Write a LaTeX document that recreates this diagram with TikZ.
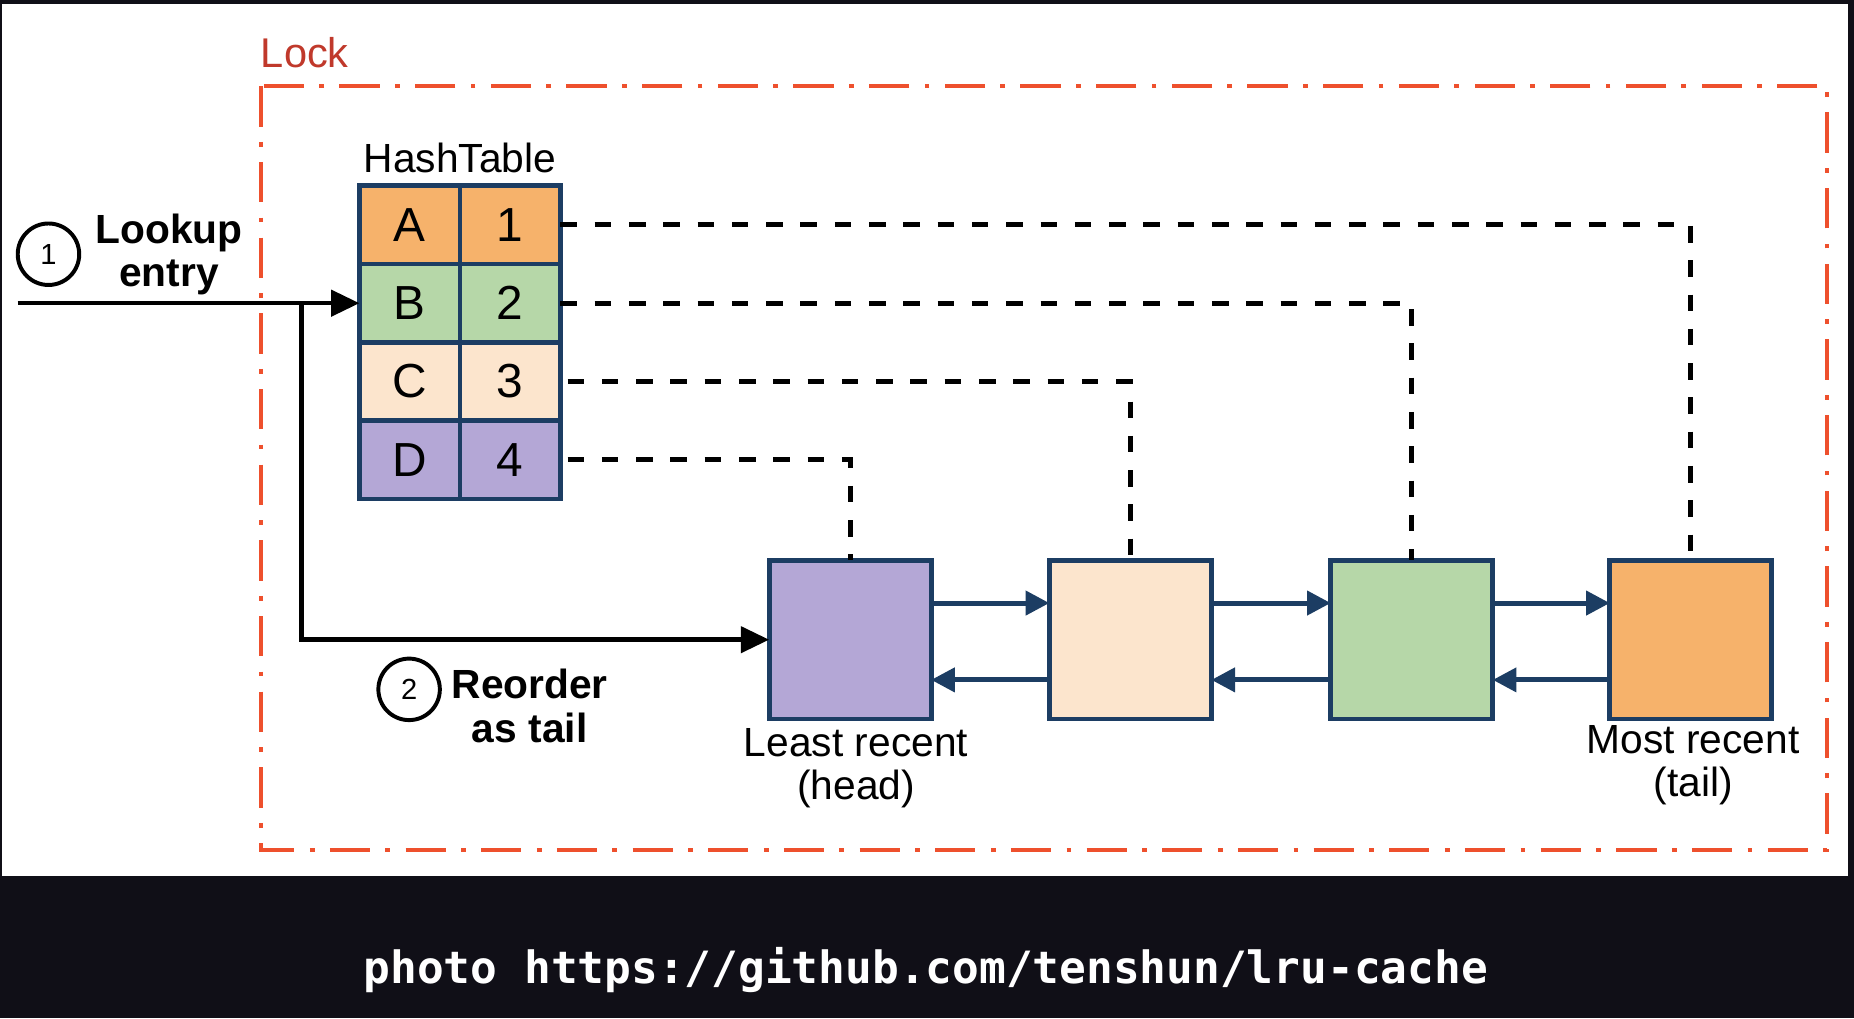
\documentclass[tikz,border=0pt]{standalone}
\usepackage{fontspec}
\setmainfont{Liberation Sans}
\newfontfamily\capfont{DejaVu Sans Mono}
\usetikzlibrary{arrows.meta}
\definecolor{bgdark}{RGB}{16,15,23}
\definecolor{lockred}{RGB}{238,80,45}
\definecolor{locktext}{RGB}{192,57,43}
\definecolor{navy}{RGB}{28,61,99}
\definecolor{corange}{RGB}{246,178,107}
\definecolor{cgreen}{RGB}{182,215,168}
\definecolor{cpeach}{RGB}{252,229,205}
\definecolor{cpurple}{RGB}{180,167,214}
\begin{document}
\begin{tikzpicture}[x=0.1mm,y=-0.1mm,
  cell/.style={draw=navy,line width=1.1pt,minimum width=8.5mm,minimum height=6.625mm,inner sep=0pt,outer sep=0pt,font=\fontsize{11.5pt}{12pt}\selectfont},
  lbox/.style={draw=navy,line width=1.15pt,minimum width=13.7mm,minimum height=13.4mm,inner sep=0pt,outer sep=0pt},
  lbl/.style={font=\fontsize{9.8pt}{10.4pt}\selectfont,align=center,inner sep=0pt},
  blbl/.style={font=\fontsize{9.8pt}{10.4pt}\selectfont\bfseries,align=center,inner sep=0pt},
  circ/.style={circle,draw=black,line width=0.95pt,minimum size=5.2mm,inner sep=0pt,font=\fontsize{7pt}{8pt}\selectfont},
  lockline/.style={draw=lockred,line width=1pt,dash pattern=on 3.4mm off 1.3mm on 0.4mm off 1.3mm},
  dashln/.style={draw=black,line width=1.2pt,dash pattern=on 1.4mm off 1.5mm},
  blackarrow/.style={draw=black,line width=1.1pt,-{Triangle[length=2.4mm,width=2.2mm]}},
  navyarrow/.style={draw=navy,line width=1.2pt,-{Triangle[length=2mm,width=2mm]}}
]
\fill[bgdark] (0,0) rectangle (1568,861);
\fill[white] (2,3) rectangle (1563,741);
\useasboundingbox (0,0) rectangle (1568,861);

% lock frame
\draw[lockline] (221,73) rectangle (1545,719);
\node[anchor=base west,inner sep=0pt,text=locktext,font=\fontsize{10pt}{11pt}\selectfont] (lock) at (220,57) {Lock};

% hash table
\node[anchor=base,inner sep=0pt,font=\fontsize{9.8pt}{10pt}\selectfont] (ht) at (389,146) {HashTable};
\node[cell,fill=corange] (a1) at (346.5,190.1) {A};
\node[cell,fill=corange] (a2) at (431.5,190.1) {1};
\node[cell,fill=cgreen] (b1c) at (346.5,256.4) {B};
\node[cell,fill=cgreen] (b2c) at (431.5,256.4) {2};
\node[cell,fill=cpeach] (c1c) at (346.5,322.6) {C};
\node[cell,fill=cpeach] (c2c) at (431.5,322.6) {3};
\node[cell,fill=cpurple] (d1c) at (346.5,388.9) {D};
\node[cell,fill=cpurple] (d2c) at (431.5,388.9) {4};

% list boxes
\node[lbox,fill=cpurple] (n1) at (719,541) {};
\node[lbox,fill=cpeach] (n2) at (956,541) {};
\node[lbox,fill=cgreen] (n3) at (1194,541) {};
\node[lbox,fill=corange] (n4) at (1430,541) {};

% list arrows
\foreach \p/\q in {n1/n2,n2/n3,n3/n4}{
  \draw[navyarrow] ([yshift=3.1mm]\p.east) -- ([yshift=3.1mm]\q.west);
  \draw[navyarrow] ([yshift=-3.4mm]\q.west) -- ([yshift=-3.4mm]\p.east);
}

% dashed links
\draw[dashln] (a2.east) -| (n4.north);
\draw[dashln] (b2c.east) -| (n3.north);
\draw[dashln,shorten <=0.6mm] (c2c.east) -| (n2.north);
\draw[dashln,shorten <=0.6mm] (d2c.east) -| (n1.north);

% labels of list
\node[lbl] (lr) at (724,650) {Least recent\\(head)};
\node[lbl] (mr) at (1432,647) {Most recent\\(tail)};

% lookup
\coordinate (start) at (15,256.4);
\coordinate (br) at (255,256.4);
\draw[blackarrow] (start) -- (b1c.west);
\draw[blackarrow] (br) |- (n1.west);
\node[circ] (s1) at (41,215) {1};
\node[blbl] (lk) at (143,215) {Lookup\\entry};
\node[circ] (s2) at (346,583) {2};
\node[blbl] (ro) at (448,597) {Reorder\\as tail};

% caption
\node[anchor=base,inner sep=0pt,text=white,font=\capfont\bfseries\fontsize{10.7pt}{12pt}\selectfont] (cap) at (783,832) {photo https://github.com/tenshun/lru-cache};
\end{tikzpicture}
\end{document}
